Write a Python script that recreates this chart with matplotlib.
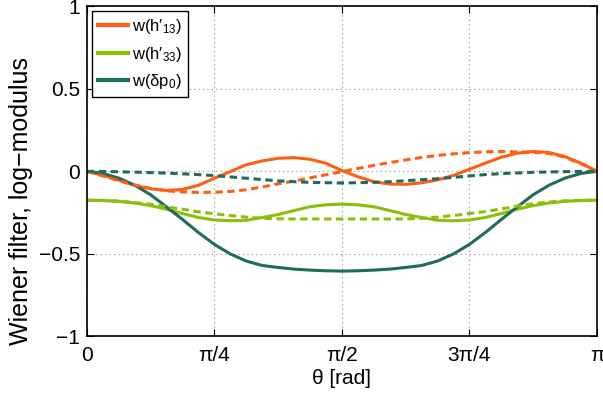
import numpy as np
import matplotlib
matplotlib.use("Agg")
import matplotlib.pyplot as plt

plt.rcParams['font.family'] = ['Liberation Sans', 'DejaVu Sans']
plt.rcParams['mathtext.fontset'] = 'custom'
plt.rcParams['mathtext.rm'] = 'Liberation Sans'
plt.rcParams['mathtext.it'] = 'Liberation Sans'

# theta sampled at j*pi/32, j = 0..32
theta = np.arange(33) * np.pi / 32

h13_solid = [0.0, -0.024, -0.053, -0.085, -0.106, -0.116, -0.110, -0.085, -0.042,
             -0.002, 0.040, 0.063, 0.079, 0.083, 0.073, 0.049, 0.004, -0.033,
             -0.063, -0.077, -0.079, -0.070, -0.052, -0.025, 0.012, 0.050, 0.085,
             0.110, 0.120, 0.114, 0.089, 0.049, 0.0]
h13_dash = [0.0, -0.028, -0.057, -0.083, -0.104, -0.118, -0.125, -0.128, -0.127,
            -0.122, -0.112, -0.095, -0.076, -0.059, -0.040, -0.021, -0.002, 0.017,
            0.036, 0.053, 0.069, 0.084, 0.096, 0.106, 0.113, 0.118, 0.120, 0.117,
            0.115, 0.108, 0.085, 0.046, 0.0]
h33_solid = [-0.175, -0.177, -0.182, -0.192, -0.208, -0.230, -0.256, -0.280, -0.295,
             -0.300, -0.297, -0.280, -0.262, -0.238, -0.215, -0.203, -0.199, -0.203,
             -0.215, -0.238, -0.262, -0.280, -0.297, -0.300, -0.295, -0.280, -0.256,
             -0.230, -0.208, -0.192, -0.182, -0.177, -0.175]
h33_dash = [-0.175, -0.177, -0.181, -0.190, -0.200, -0.216, -0.230, -0.245, -0.257,
            -0.268, -0.278, -0.285, -0.288, -0.289, -0.289, -0.289, -0.289, -0.289,
            -0.289, -0.289, -0.289, -0.285, -0.278, -0.268, -0.256, -0.244, -0.228,
            -0.211, -0.197, -0.186, -0.179, -0.177, -0.175]
dp0_solid = [0.0, -0.013, -0.041, -0.084, -0.142, -0.216, -0.292, -0.371, -0.443,
             -0.501, -0.544, -0.571, -0.583, -0.593, -0.599, -0.603, -0.605, -0.603,
             -0.599, -0.593, -0.583, -0.571, -0.544, -0.501, -0.443, -0.371, -0.292,
             -0.216, -0.142, -0.084, -0.041, -0.013, 0.0]
dp0_dash = [0.0, -0.001, -0.003, -0.005, -0.008, -0.011, -0.015, -0.020, -0.026,
            -0.034, -0.042, -0.050, -0.058, -0.063, -0.067, -0.069, -0.071, -0.069,
            -0.067, -0.063, -0.057, -0.051, -0.045, -0.037, -0.028, -0.020, -0.014,
            -0.010, -0.006, -0.004, -0.002, -0.001, 0.0]

xticks = [0, np.pi / 4, np.pi / 2, 3 * np.pi / 4, np.pi]
xticklabels = ['0', 'π/4', 'π/2', '3π/4', 'π']
yticks = [-1, -0.5, 0, 0.5, 1]
yticklabels = ['−1', '−0.5', '0', '0.5', '1']

orange = '#ff5f12'
green = '#8cbe0c'
teal = '#1f6b5c'

fig = plt.figure(figsize=(6.03, 3.97), dpi=100)
ax = fig.add_axes([0.144, 0.153, 0.846, 0.831])

lw = 2.2
dash = (0, (2.4, 1.5))
ax.plot(theta, h13_solid, color=orange, lw=lw, label="w(h′$_{13}$)")
ax.plot(theta, h33_solid, color=green, lw=lw, label="w(h′$_{33}$)")
ax.plot(theta, dp0_solid, color=teal, lw=lw, label="w(δp$_0$)")
ax.plot(theta, h13_dash, color=orange, lw=lw, ls=dash)
ax.plot(theta, h33_dash, color=green, lw=lw, ls=dash)
ax.plot(theta, dp0_dash, color=teal, lw=lw, ls=dash)

ax.set_xlim(0, np.pi)
ax.set_ylim(-1, 1)
ax.set_xticks(xticks)
ax.set_xticklabels(xticklabels)
ax.set_yticks(yticks)
ax.set_yticklabels(yticklabels)
ax.tick_params(direction='in', top=True, right=True, labelsize=15, length=5)
ax.tick_params(axis='x', pad=7)
ax.tick_params(axis='y', pad=5)
ax.grid(True, ls=(0, (1, 3)), color='#888888', lw=0.8)
for s in ax.spines.values():
    s.set_linewidth(1.2)

ax.set_xlabel('θ [rad]', fontsize=15, labelpad=3)
ax.set_ylabel('Wiener filter, log−modulus', fontsize=18)
ax.yaxis.set_label_coords(-0.106, 0.41)

leg = ax.legend(loc='upper left', fontsize=12, frameon=True, fancybox=False,
                handlelength=1.8, handletextpad=0.25, borderpad=0.35,
                labelspacing=0.5, borderaxespad=0.3)
leg.get_frame().set_edgecolor('black')
leg.get_frame().set_linewidth(1.0)
leg.get_frame().set_alpha(1)
for line in leg.get_lines():
    line.set_linewidth(3)

fig.savefig('out.png', dpi=100)
